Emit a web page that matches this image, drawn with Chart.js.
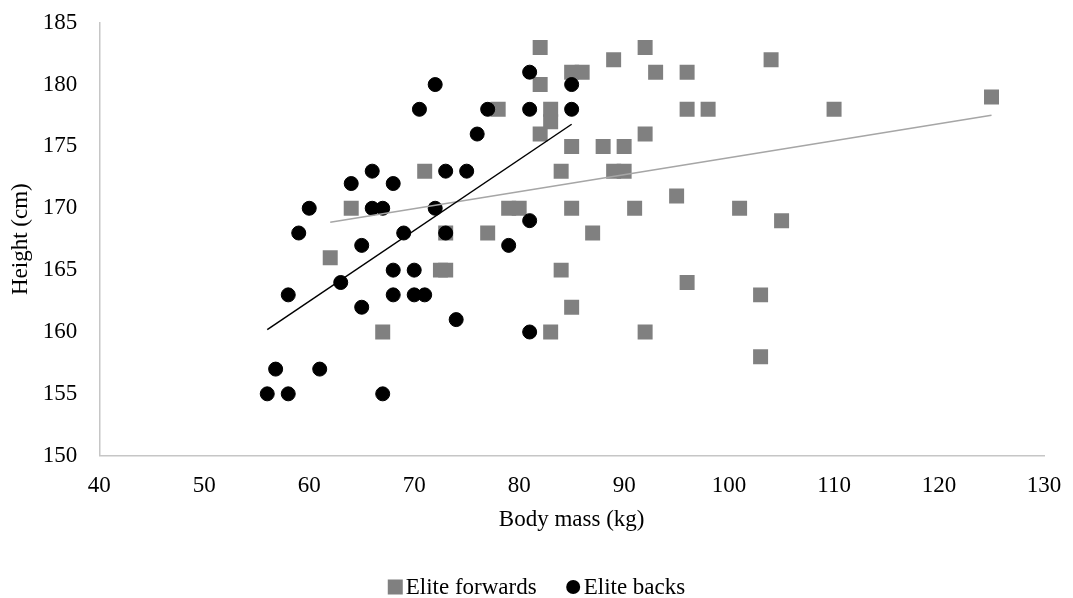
<!DOCTYPE html>
<html>
<head>
<meta charset="utf-8">
<title>Body mass and height</title>
<script src="https://cdn.jsdelivr.net/npm/chart.js@4.4.1/dist/chart.umd.min.js"></script>
<style>
  html, body { margin: 0; padding: 0; background: #fff; }
  canvas { display: block; }
</style>
</head>
<body>
<canvas id="massChart" width="1073" height="598"></canvas>
<script>
// Elite forwards: body mass (kg) / height (cm)
const forwardsMass = [82, 92, 89, 104, 85, 86, 93, 96, 82, 83, 83, 78, 96, 98, 110, 125,
  82, 92, 85, 88, 90, 71, 84, 89, 90, 95, 64, 79, 80, 85, 91, 101, 105, 73, 77, 87,
  62, 72.5, 73, 84, 96, 103, 85, 67, 83, 92, 103];
const forwardsHeight = [183, 183, 182, 182, 181, 181, 181, 181, 180, 178, 177, 178, 178, 178, 178, 179,
  176, 176, 175, 175, 175, 173, 173, 173, 173, 171, 170, 170, 170, 170, 170, 170, 169, 168, 168, 168,
  166, 165, 165, 165, 164, 163, 162, 160, 160, 160, 158];

// Elite backs
const backsMass = [72, 70.5, 77, 81, 81, 85, 85, 76, 66, 73, 75, 64, 68, 60, 66, 67, 72, 81,
  59, 69, 73, 65, 79, 68, 70, 63, 58, 68, 70, 71, 65, 74, 81, 56.8, 61, 56, 58, 67];
const backsHeight = [180, 178, 178, 181, 178, 180, 178, 176, 173, 173, 173, 172, 172, 170, 170, 170, 170, 169,
  168, 168, 168, 167, 167, 165, 165, 164, 163, 163, 163, 163, 162, 161, 160, 157, 157, 155, 155, 155];

const massTicks = [40, 50, 60, 70, 80, 90, 100, 110, 120, 130];
const heightTicks = [150, 155, 160, 165, 170, 175, 180, 185];

const FONT = "'Liberation Serif', 'Times New Roman', serif";
const FONT_SIZE = 23;

function toPoints(xs, ys) {
  return xs.map((x, i) => ({ x: x, y: ys[i] }));
}

// least-squares line, spanning the min..max of the x values
function linearFit(xs, ys) {
  const n = xs.length;
  const mx = xs.reduce((a, b) => a + b, 0) / n;
  const my = ys.reduce((a, b) => a + b, 0) / n;
  let sxy = 0, sxx = 0;
  for (let i = 0; i < n; i++) {
    sxy += (xs[i] - mx) * (ys[i] - my);
    sxx += (xs[i] - mx) * (xs[i] - mx);
  }
  const slope = sxy / sxx;
  const intercept = my - slope * mx;
  const x0 = Math.min(...xs);
  const x1 = Math.max(...xs);
  return [{ x: x0, y: intercept + slope * x0 }, { x: x1, y: intercept + slope * x1 }];
}

// legend drawn by hand so the marker sits right against its label
const bottomLegend = {
  id: 'bottomLegend',
  afterDraw(chart) {
    const ctx = chart.ctx;
    const items = chart.data.datasets.filter(d => !d.showLine);
    const markerSize = 15;
    const gap = 3;
    const spacing = 29;
    ctx.save();
    ctx.font = FONT_SIZE + 'px ' + FONT;
    ctx.textBaseline = 'middle';
    ctx.textAlign = 'left';
    const widths = items.map(d => ctx.measureText(d.label).width);
    let total = 0;
    widths.forEach((w, i) => { total += markerSize + gap + w + (i ? spacing : 0); });
    let x = chart.width / 2 - total / 2;
    const y = 587;
    items.forEach((d, i) => {
      ctx.fillStyle = d.backgroundColor;
      if (d.pointStyle === 'rect') {
        ctx.fillRect(x, y - markerSize / 2, markerSize, markerSize);
      } else {
        ctx.beginPath();
        ctx.arc(x + markerSize / 2, y, markerSize / 2 - 0.5, 0, Math.PI * 2);
        ctx.fill();
      }
      x += markerSize + gap;
      ctx.fillStyle = '#000';
      ctx.fillText(d.label, x, y + 1);
      x += widths[i] + spacing;
    });
    ctx.restore();
  }
};

Chart.defaults.font.family = FONT;
Chart.defaults.font.size = FONT_SIZE;
Chart.defaults.color = '#000';

const ctx = document.getElementById('massChart').getContext('2d');
new Chart(ctx, {
  type: 'scatter',
  data: {
    datasets: [
      {
        label: 'Elite forwards',
        data: toPoints(forwardsMass, forwardsHeight),
        pointStyle: 'rect',
        pointRadius: 10.6,
        backgroundColor: '#808080',
        borderColor: '#808080',
        borderWidth: 0,
        order: 4
      },
      {
        label: 'Elite backs',
        data: toPoints(backsMass, backsHeight),
        pointStyle: 'circle',
        pointRadius: 7,
        backgroundColor: '#000',
        borderColor: '#000',
        borderWidth: 1,
        order: 3
      },
      {
        label: 'Forwards trend',
        data: linearFit(forwardsMass, forwardsHeight),
        showLine: true,
        fill: false,
        pointRadius: 0,
        borderColor: '#a6a6a6',
        borderWidth: 1.5,
        order: 2
      },
      {
        label: 'Backs trend',
        data: linearFit(backsMass, backsHeight),
        showLine: true,
        fill: false,
        pointRadius: 0,
        borderColor: '#000',
        borderWidth: 1.5,
        order: 1
      }
    ]
  },
  options: {
    responsive: false,
    animation: false,
    devicePixelRatio: 1,
    layout: {
      padding: { top: 22.7, right: 29, bottom: 50, left: 0 }
    },
    plugins: {
      legend: { display: false },
      tooltip: { enabled: false }
    },
    scales: {
      x: {
        type: 'linear',
        min: 40,
        max: 130,
        afterBuildTicks: scale => { scale.ticks = massTicks.map(v => ({ value: v })); },
        afterFit: scale => {
          scale.height = 92.3;
          scale.paddingLeft = 0;
          scale.paddingRight = 0;
        },
        grid: { display: false, drawTicks: false },
        border: { display: true, color: '#c6c6c6', width: 1.5 },
        ticks: { padding: 16, maxRotation: 0 },
        title: {
          display: true,
          text: 'Body mass (kg)',
          padding: { top: 0, bottom: 14 }
        }
      },
      y: {
        type: 'linear',
        min: 150,
        max: 185,
        afterBuildTicks: scale => { scale.ticks = heightTicks.map(v => ({ value: v })); },
        afterFit: scale => {
          scale.width = 99.3;
          scale.paddingTop = 0;
          scale.paddingBottom = 0;
        },
        grid: { display: false, drawTicks: false },
        border: { display: true, color: '#c6c6c6', width: 1.5 },
        ticks: { padding: 22 },
        title: {
          display: true,
          text: 'Height (cm)',
          padding: { top: 7, bottom: 0 }
        }
      }
    }
  },
  plugins: [bottomLegend]
});
</script>
</body>
</html>
